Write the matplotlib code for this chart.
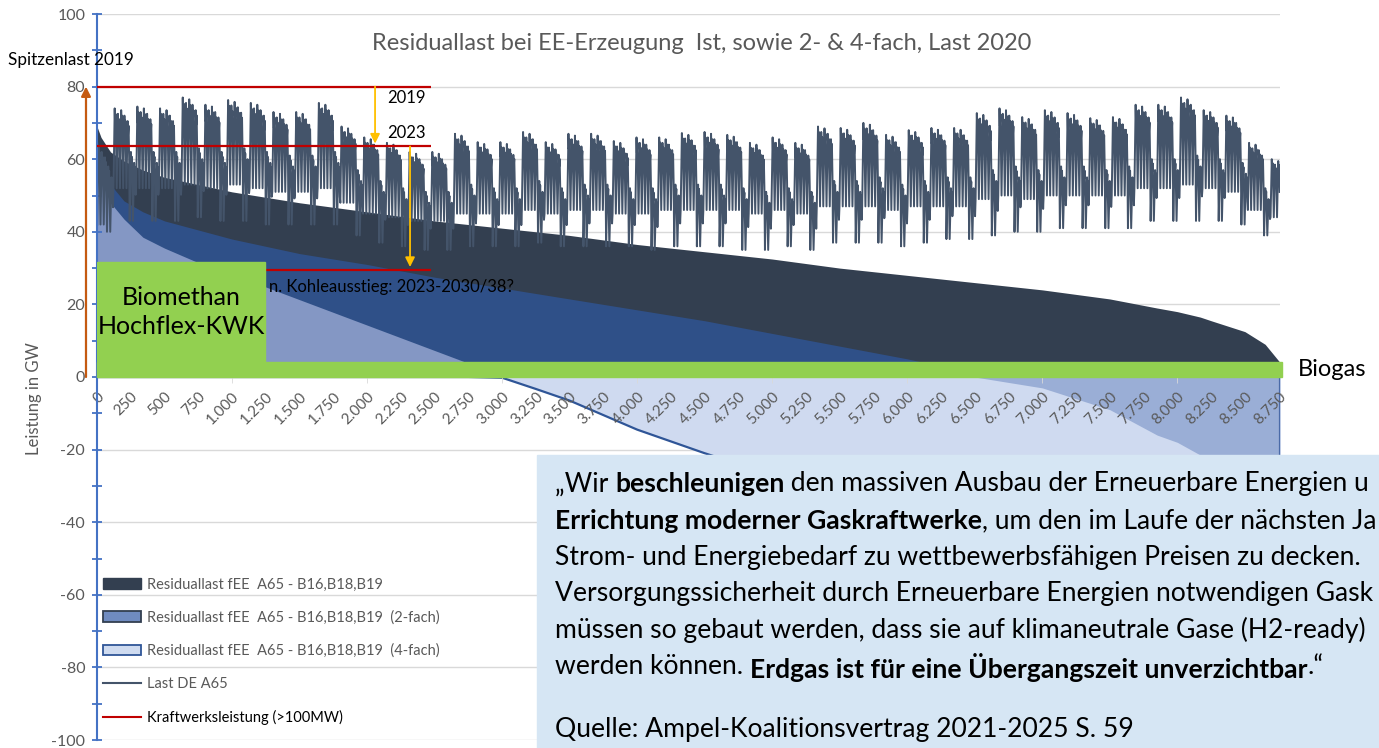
import matplotlib.pyplot as plt
from matplotlib.patches import Patch, Rectangle
from matplotlib.lines import Line2D
import matplotlib.transforms as mtransforms

plt.rcParams['font.family'] = ['Lato', 'DejaVu Sans']
plt.rcParams['axes.unicode_minus'] = False

W, H = 1379, 748

# sorted residual load (duration curves), GW, read at these hours
dur_hours = [0, 30, 100, 200, 340, 500, 750, 1000, 1500, 2000, 2500, 2750, 3000, 3250, 3500,
             4000, 4500, 5000, 5500, 6000, 6500, 7000, 7500, 7850, 8000, 8170, 8250, 8500, 8650, 8760]
resid_1x = [69, 66, 62, 59.5, 57, 55, 53, 51, 48, 45.5, 43, 42, 41, 40, 39,
            36.5, 34.5, 32.5, 30, 28, 26, 24, 21.5, 19, 18, 16.5, 15.5, 12.5, 9, 4]
resid_2x = [66, 58, 53, 48.5, 45.5, 43, 40.5, 38, 34, 31, 27.5, 26, 24.5, 23, 21.5,
            18.5, 15.5, 12, 8.5, 5, 1, -3, -9, -16, -18, -21.5, -23.5, -30, -36, -45]
resid_4x = [62, 54, 48, 43.5, 38.5, 35.5, 31.5, 28.3, 21.3, 14.3, 7.3, 3.8, -0.2, -3.3, -6.5,
            -14.5, -21, -27, -33, -39, -45, -51, -58, -63, -66, -69, -71, -77, -82, -90]

# load 2020 per calendar week (week 0 = 1.-5. Jan), GW
week_peak = [64, 74, 74.5, 74, 77, 75, 76.3, 75.5, 73, 73,
             75.5, 69, 66, 64.5, 62, 62, 67, 64.7, 64.7, 67.5,
             64.7, 67, 67, 65, 66, 66, 67.2, 67.5, 66.7, 64.5,
             66, 64.5, 69, 68.6, 70, 66.7, 68, 68.6, 68.6, 72.7,
             74, 71.6, 73.5, 72.7, 71.3, 71.6, 75, 75, 77, 73.5,
             72, 64.5, 60]
week_night = [42, 52, 52, 52, 53, 52, 53, 52, 51, 51,
              52, 48, 45, 44, 43, 43, 45, 45, 45, 46,
              45, 46, 46, 45, 45, 46, 46, 46, 46, 45,
              46, 45, 47, 47, 47, 46, 47, 47, 47, 49,
              50, 49, 50, 50, 50, 50, 52, 52, 53, 52,
              51, 46, 44]
weekend_peak = [58, 62, 62, 62, 63, 62, 63, 62, 61, 61,
                62, 57, 54, 52, 51, 51, 53, 52, 52, 54,
                52, 53, 53, 52, 52, 53, 53, 53, 52, 51,
                52, 51, 54, 54, 55, 53, 54, 55, 55, 57,
                58, 57, 58, 58, 57, 58, 60, 60, 61, 60,
                59, 52, 50]
weekend_low = [40, 43, 43, 43, 44, 43, 43, 42, 42, 42,
               42, 39, 37, 36, 35, 35, 36, 36, 36, 37,
               36, 36, 36, 36, 35, 36, 36, 36, 35, 35,
               36, 35, 37, 37, 37, 36, 37, 38, 38, 39,
               40, 40, 41, 41, 41, 41, 43, 43, 43, 43,
               42, 39, 37]
weekday_shape = [0, -1.5, -0.5, -2, -3.5]
day_hours = [2, 7, 11, 14, 18, 22]
day_profile = [0, 0.6, 1.0, 0.8, 0.93, 0.45]

# power plant capacity levels (>100MW)
kw_levels = [80, 63.5, 29.5]
kw_labels = ['2019', '2023', 'n. Kohleausstieg: 2023-2030/38?']
kw_end_hour = 2470
spitzenlast_2019 = 80
biogas_gw = 4.2

x_ticks = list(range(0, 8751, 250))
x_ticklabels = [f'{v:,}'.replace(',', '.') for v in x_ticks]

# load line from the weekly readings
load_h, load_v = [], []
for d in range(365):
    wk, dow = divmod(d + 2, 7)
    if dow < 5:
        lo, hi = week_night[wk], week_peak[wk] + weekday_shape[dow]
    else:
        lo, hi = weekend_low[wk], weekend_peak[wk] - (3 if dow == 6 else 0)
    for hh, p in zip(day_hours, day_profile):
        load_h.append(d * 24 + hh)
        load_v.append(lo + p * (hi - lo))

fig = plt.figure(figsize=(W / 100, H / 100), dpi=100)
ax = fig.add_axes([97 / W, 8 / H, 1183 / W, 726 / H])
ax.set_xlim(0, 8760)
ax.set_ylim(-100, 100)

for g in range(-100, 101, 20):
    ax.axhline(g, color='#d9d9d9', lw=1, zorder=0.3)

# duration curve areas
ax.fill_between(dur_hours, 0, resid_1x, color='#333f50', lw=0, zorder=1)
pos2 = [max(v, 0) for v in resid_2x]
pos4 = [max(v, 0) for v in resid_4x]
neg2 = [min(v, 0) for v in resid_2x]
neg4 = [min(v, 0) for v in resid_4x]
ax.fill_between(dur_hours, 0, pos2, color='#2f5088', lw=0, zorder=1)
ax.fill_between(dur_hours, 0, pos4, color='#8497c4', lw=0, zorder=1)
ax.fill_between(dur_hours, 0, neg4, color='#cfdaf0', lw=0, zorder=1)
ax.fill_between(dur_hours, 0, neg2, color='#9aaed6', lw=0, zorder=1)
ax.plot(dur_hours, neg4, color='#2f5597', lw=1.6, zorder=1.2)
ax.plot([dur_hours[-1], dur_hours[-1]], [0, resid_4x[-1]], color='#4a6aa8', lw=1.6, zorder=1.2)

ax.plot(load_h, load_v, color='#44546a', lw=1.4, zorder=2)

# power plant capacity lines and arrows
ax.hlines(kw_levels, 0, kw_end_hour, color='#c00000', lw=1.6, zorder=3)
ax.annotate('', xy=(2059, kw_levels[1] + 0.8), xytext=(2059, kw_levels[0]),
            arrowprops=dict(arrowstyle='-|>', color='#ffc000', lw=1.3,
                            mutation_scale=14, shrinkA=0, shrinkB=0), zorder=4)
ax.annotate('', xy=(2318, kw_levels[2] + 0.8), xytext=(2318, kw_levels[1]),
            arrowprops=dict(arrowstyle='-|>', color='#ffc000', lw=1.3,
                            mutation_scale=14, shrinkA=0, shrinkB=0), zorder=4)
ax.text(2150, 76.8, kw_labels[0], fontsize=12, va='center', color='black', zorder=4)
ax.text(2150, 67.2, kw_labels[1], fontsize=12, va='center', color='black', zorder=4)
ax.text(1270, 24.7, kw_labels[2], fontsize=12, va='center', color='black', zorder=4)

ytrans = ax.get_yaxis_transform()
ax.annotate('', xy=(-0.0093, spitzenlast_2019), xycoords=ytrans,
            xytext=(-0.0093, 0), textcoords=ytrans, annotation_clip=False,
            arrowprops=dict(arrowstyle='-|>', color='#c55a11', lw=1.6,
                            mutation_scale=14, shrinkA=0, shrinkB=0))
fig.text(8 / W, 1 - 60 / H, 'Spitzenlast 2019', fontsize=12.3, va='center', color='black')

# green overlays
xtrans = mtransforms.blended_transform_factory(ax.transAxes, ax.transData)
ax.add_patch(Rectangle((0, 0), 1.002, biogas_gw, transform=xtrans, color='#92d050',
                       zorder=5, clip_on=False))
ax.add_patch(Rectangle((0, biogas_gw), 0.142, 31.7 - biogas_gw, transform=xtrans,
                       color='#92d050', zorder=5))
ax.text(0.071, (31.7 + biogas_gw) / 2, 'Biomethan\nHochflex-KWK', transform=xtrans,
        ha='center', va='center', fontsize=18, linespacing=1.3, zorder=6)
fig.text(1298 / W, 1 - 369 / H, 'Biogas', fontsize=17, va='center', color='black')

# axes styling
for s in ['top', 'right']:
    ax.spines[s].set_visible(False)
ax.spines['bottom'].set_position(('data', 0))
ax.spines['bottom'].set_visible(False)
ax.spines['left'].set_color('#4472c4')
ax.spines['left'].set_linewidth(1.5)

ax.set_xticks(x_ticks)
ax.set_xticklabels(x_ticklabels, rotation=45, ha='right', va='top', rotation_mode='anchor')
ax.xaxis.remove_overlapping_locs = False
ax.set_xticks(range(0, 8761, 1000), minor=True)
ax.tick_params(axis='x', which='major', length=0, pad=9, labelsize=11, labelcolor='#595959')
ax.tick_params(axis='x', which='minor', length=4, color='#d9d9d9', direction='out')

ax.set_yticks(range(-100, 101, 20))
ax.set_yticks(range(-100, 101, 10), minor=True)
ax.tick_params(axis='y', which='both', direction='inout', length=7, width=1.3,
               color='#4472c4', labelsize=11.5, labelcolor='#595959', pad=5)
ax.set_ylabel('Leistung in GW', fontsize=12, color='#595959')
ax.yaxis.set_label_coords(-(97 - 42) / 1183, 0.47)

fig.text(702 / W, 1 - 44 / H, 'Residuallast bei EE-Erzeugung  Ist, sowie 2- & 4-fach, Last 2020',
         ha='center', va='center', fontsize=17, color='#595959')

# legend
handles = [Patch(fc='#333f50', ec='#333f50'),
           Patch(fc='#6f8bc0', ec='#333f50', lw=1.3),
           Patch(fc='#cfdbf0', ec='#2f5597', lw=1.3),
           Line2D([0], [0], color='#44546a', lw=1.5),
           Line2D([0], [0], color='#c00000', lw=1.5)]
labels = ['Residuallast fEE  A65 - B16,B18,B19',
          'Residuallast fEE  A65 - B16,B18,B19  (2-fach)',
          'Residuallast fEE  A65 - B16,B18,B19  (4-fach)',
          'Last DE A65',
          'Kraftwerksleistung (>100MW)']
leg = ax.legend(handles, labels, loc='upper left', bbox_to_anchor=(0.0, 0.232),
                frameon=False, fontsize=10.5, labelspacing=1.3, handlelength=2.6,
                handleheight=0.75, handletextpad=0.45, borderaxespad=0, borderpad=0.4)
for t in leg.get_texts()[:4]:
    t.set_color('#595959')
leg.get_texts()[4].set_color('black')

# quote box
fig.add_artist(Rectangle((537 / W, 0), 1 - 537 / W, (H - 455) / H, transform=fig.transFigure,
                         color='#d6e6f4', zorder=5))

quote_lines = [
    (484, [('„Wir ', False), ('beschleunigen', True), (' den massiven Ausbau der Erneuerbare Energien u', False)]),
    (521, [('Errichtung moderner Gaskraftwerke', True), (', um den im Laufe der nächsten Ja', False)]),
    (557, [('Strom- und Energiebedarf zu wettbewerbsfähigen Preisen zu decken.', False)]),
    (594, [('Versorgungssicherheit durch Erneuerbare Energien notwendigen Gask', False)]),
    (630, [('müssen so gebaut werden, dass sie auf klimaneutrale Gase (H2-ready)', False)]),
    (667, [('werden können. ', False), ('Erdgas ist für eine Übergangszeit unverzichtbar', True), ('.“', False)]),
    (730, [('Quelle: Ampel-Koalitionsvertrag 2021-2025 S. 59', False)]),
]

renderer = fig.canvas.get_renderer()


def text_width(s, bold, fs):
    t = fig.text(0, 0, '|' + s + '|', fontsize=fs, weight='bold' if bold else 'normal')
    w = t.get_window_extent(renderer).width
    t.remove()
    t = fig.text(0, 0, '||', fontsize=fs, weight='bold' if bold else 'normal')
    w -= t.get_window_extent(renderer).width
    t.remove()
    return w


fs_q = 10 * 805 / text_width('Strom- und Energiebedarf zu wettbewerbsfähigen Preisen zu decken.', False, 10)
for y, parts in quote_lines:
    x = 555
    for s, bold in parts:
        fig.text(x / W, 1 - y / H, s, fontsize=fs_q, weight='bold' if bold else 'normal',
                 va='center', ha='left', color='black', zorder=6)
        x += text_width(s, bold, fs_q)

fig.savefig('out.png', dpi=100)
plt.close(fig)
